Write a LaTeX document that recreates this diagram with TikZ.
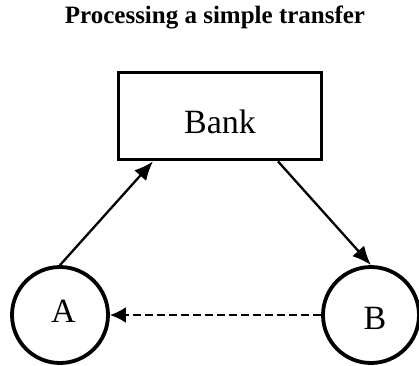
\documentclass[tikz,border=0pt]{standalone}
\usepackage{fontspec}
\setmainfont{Liberation Serif}
\usetikzlibrary{arrows.meta}
\usetikzlibrary{positioning}

\begin{document}
\begin{tikzpicture}[x=1pt, y=1pt,
  party/.style={draw, circle, line width=3.8pt, minimum size=96pt, inner sep=0pt, text depth=0pt, font=\fontsize{34}{34}\selectfont},
  bankbox/.style={draw, rectangle, line width=3.8pt, minimum width=203pt, minimum height=87pt, inner sep=0pt, text height=34.5pt, text depth=0pt, font=\fontsize{34}{34}\selectfont},
  flow/.style={line width=2.3pt, -{Latex[length=19pt,width=16pt]}}]
\useasboundingbox (0,0) rectangle (419,365);
\node[font=\fontsize{25}{25}\selectfont\bfseries] (title) at (215,348) {Processing a simple transfer};
\node[bankbox] (bank) at (220,249) {Bank};
\node[party, text height=14.5pt] (a) at (60,50) {\hspace{7pt}A};
\node[party, text height=28.5pt] (b) at (371,50) {\hspace{8pt}B};
\draw[flow] (a.north) -- ([xshift=-67pt]bank.south);
\draw[flow] ([xshift=58pt]bank.south) -- (b.north);
\draw[line width=2.3pt, dash pattern=on 8pt off 4pt, -{Latex[length=16pt,width=16pt]}] (b.west) -- (a.east);
\end{tikzpicture}
\end{document}
